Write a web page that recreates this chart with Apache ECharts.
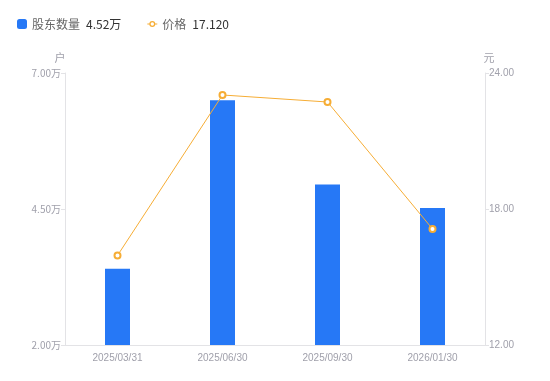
<!DOCTYPE html>
<html><head><meta charset="utf-8">
<script src="https://cdn.jsdelivr.net/npm/echarts@6/dist/echarts.min.js"></script>
<style>html,body{margin:0;padding:0;background:#fff}#c{width:550px;height:381px}</style>
</head><body><div id="c"></div>
<script>
var categories = ['2025/03/31', '2025/06/30', '2025/09/30', '2026/01/30'];
var holders = [3.40, 6.50, 4.95, 4.52];   // 万户
var prices = [15.95, 23.03, 22.72, 17.12]; // 元
var leftTicks = {min: 2, max: 7, interval: 2.5};
var rightTicks = {min: 12, max: 24, interval: 6};

var chart = echarts.init(document.getElementById('c'));
var font = '"Noto Sans CJK SC", "Noto Sans", sans-serif';
var numFont = '"Liberation Sans", Arial, sans-serif';
var lineIcon = 'path://M0,4.5H2.4V5.5H0Z M7.6,4.5H10V5.5H7.6Z M2,5A3,3 0 1,1 8,5A3,3 0 1,1 2,5Z M3.3,5A1.7,1.7 0 1,0 6.7,5A1.7,1.7 0 1,0 3.3,5Z M0,0H0.01V0.01H0Z M0,10H0.01V10.01H0Z';
chart.setOption({
  animation: false,
  textStyle: {fontFamily: font},
  legend: {
    left: 12, top: 13,
    itemWidth: 10, itemHeight: 10, itemGap: 26,
    textStyle: {fontFamily: font, fontSize: 12, color: '#666',
      rich: {v: {color: '#333', fontSize: 12, fontFamily: font, padding: [0, 0, 0, 6]}}},
    formatter: function (name) {
      if (name === '股东数量') return name + '{v|' + holders[holders.length - 1].toFixed(2) + '万}';
      return name + '{v|' + prices[prices.length - 1].toFixed(3) + '}';
    },
    data: [{name: '股东数量', icon: 'roundRect'},
           {name: '价格', icon: lineIcon, itemStyle: {color: '#f6ad35', borderWidth: 0}}]
  },
  grid: {left: 65, right: 65, top: 73, bottom: 36, containLabel: false},
  xAxis: {
    type: 'category', data: categories,
    axisLine: {lineStyle: {color: '#e3e3e6'}},
    axisTick: {show: false},
    axisLabel: {color: '#a0a0ab', fontSize: 10, margin: 8, fontFamily: numFont}
  },
  yAxis: [{
    type: 'value', name: '户', min: leftTicks.min, max: leftTicks.max, interval: leftTicks.interval,
    nameTextStyle: {color: '#a0a0ab', fontSize: 11, padding: [0, 10, 0, 0]},
    nameGap: 10,
    axisLine: {show: true, lineStyle: {color: '#e3e3e6'}},
    axisTick: {show: true, length: 4, lineStyle: {color: '#e3e3e6'}},
    splitLine: {show: false},
    axisLabel: {color: '#a0a0ab', fontSize: 10, margin: 4, formatter: function (v) { return v.toFixed(2) + '万'; }}
  }, {
    type: 'value', name: '元', min: rightTicks.min, max: rightTicks.max, interval: rightTicks.interval,
    nameTextStyle: {color: '#a0a0ab', fontSize: 11, padding: [0, 0, 0, 8]},
    nameGap: 10,
    axisLine: {show: true, lineStyle: {color: '#e3e3e6'}},
    axisTick: {show: true, length: 4, lineStyle: {color: '#e3e3e6'}},
    splitLine: {show: false},
    axisLabel: {color: '#a0a0ab', fontSize: 10, margin: 4, fontFamily: numFont, formatter: function (v) { return v.toFixed(2); }}
  }],
  series: [{
    name: '股东数量', type: 'bar', data: holders, barWidth: 25, yAxisIndex: 0,
    itemStyle: {color: '#2678f6'}
  }, {
    name: '价格', type: 'line', data: prices, yAxisIndex: 1,
    symbol: 'emptyCircle', symbolSize: 6,
    lineStyle: {color: '#f6ad35', width: 1},
    itemStyle: {color: '#f6ad35', borderWidth: 2}
  }]
});
</script></body></html>
